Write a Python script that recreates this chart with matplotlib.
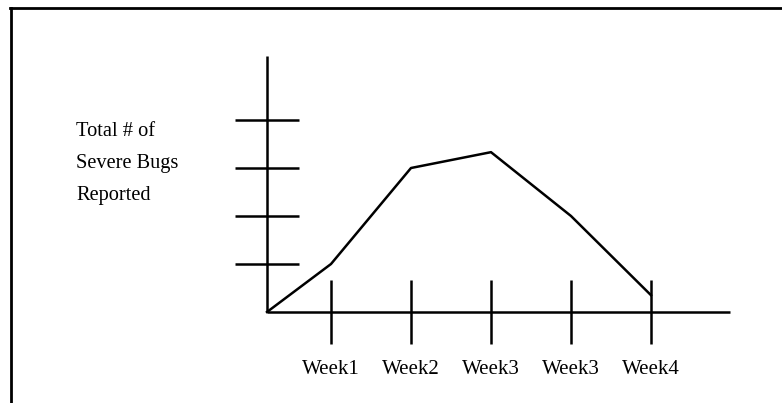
import numpy as np
import matplotlib
matplotlib.use('Agg')
import matplotlib.pyplot as plt
from matplotlib.lines import Line2D

# data
weeks = ["Week1", "Week2", "Week3", "Week3", "Week4"]
week_pos = [1, 2, 3, 4, 5]
bugs = [1.0, 3.0, 3.33, 2.0, 0.35]
y_ticks = [1, 2, 3, 4]
ylabel_lines = ["Total # of", "Severe Bugs", "Reported"]

plt.rcParams['font.family'] = ['Liberation Serif', 'DejaVu Serif']

x0 = 0.2  # where the y axis sits (origin)
fig = plt.figure(figsize=(7.82, 4.03), dpi=100)
ax = fig.add_axes([0, 0, 1, 1])
ax.set_xlim(x0 - 267 / 80, x0 + 515 / 80)
ax.set_ylim(-91 / 48, 312 / 48)
ax.axis('off')

lw = 1.8
# axes lines
ax.plot([x0, x0], [0, 5.33], color='black', lw=lw, solid_capstyle='butt')
ax.plot([x0, x0 + 5.79], [0, 0], color='black', lw=lw, solid_capstyle='butt')

# hand drawn ticks
for t in y_ticks:
    ax.plot([x0 - 0.4, x0 + 0.4], [t, t], color='black', lw=lw, solid_capstyle='butt')
for p in week_pos:
    ax.plot([p, p], [-0.667, 0.667], color='black', lw=lw, solid_capstyle='butt')

# bug curve from origin
ax.plot([x0] + week_pos, [0] + bugs, color='black', lw=lw)

for p, w in zip(week_pos, weeks):
    ax.text(p, -1.19, w, ha='center', va='center', fontsize=15)

for i, s in enumerate(ylabel_lines):
    ax.text(x0 - 2.3875, 3.667 - i * 0.667, s, ha='left', va='baseline', fontsize=14.7)

# frame (only left and top visible)
fig.add_artist(Line2D([10.5 / 782, 10.5 / 782], [0, 1 - 7.5 / 403],
                      transform=fig.transFigure, color='black', lw=2))
fig.add_artist(Line2D([9.5 / 782, 1], [1 - 7.5 / 403, 1 - 7.5 / 403],
                      transform=fig.transFigure, color='black', lw=2))

plt.savefig("out.png", dpi=100)
